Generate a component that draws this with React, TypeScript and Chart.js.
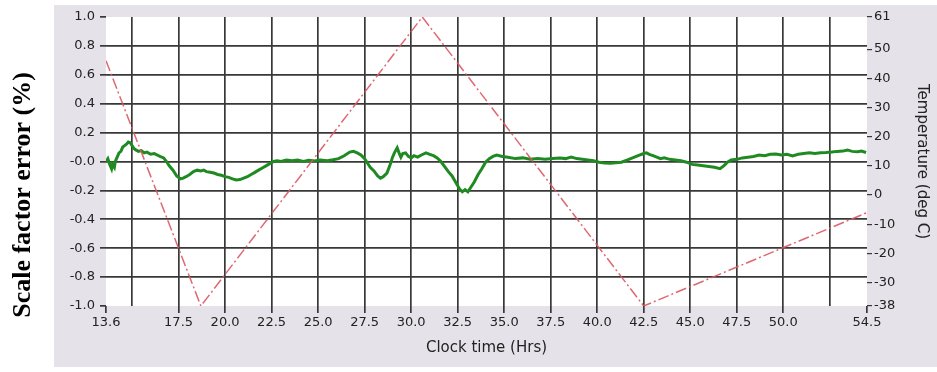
import React, { useEffect, useRef } from "react";
import { Chart, registerables } from "chart.js";

Chart.register(...registerables);

// Scale factor error trace (green)
const timeHrs = [
  13.6, 13.7, 13.8, 13.9, 13.95, 14.05, 14.1, 14.2, 14.3, 14.4, 14.5, 14.6, 14.7, 14.8, 14.9,
  15.0, 15.1, 15.2, 15.35, 15.5, 15.65, 15.8, 16.0, 16.2, 16.35, 16.5, 16.7, 16.85, 17.0, 17.2,
  17.4, 17.6, 17.75, 17.9, 18.1, 18.3, 18.5, 18.7, 18.85, 19.0, 19.2, 19.4, 19.6, 19.8, 20.0,
  20.2, 20.4, 20.6, 20.8, 21.0, 21.2, 21.4, 21.6, 21.8, 22.0, 22.2, 22.4, 22.6, 22.8, 23.0,
  23.3, 23.6, 23.9, 24.2, 24.5, 24.8, 25.1, 25.5, 25.8, 26.1, 26.4, 26.7, 26.9, 27.1, 27.3,
  27.5, 27.65, 27.8, 28.0, 28.2, 28.35, 28.5, 28.7, 28.85, 29.0, 29.1, 29.25, 29.35, 29.45, 29.55,
  29.7, 29.85, 30.0, 30.15, 30.35, 30.55, 30.8, 31.0, 31.2, 31.4, 31.6, 31.8, 32.0, 32.2, 32.4,
  32.6, 32.75, 32.9, 33.05, 33.2, 33.4, 33.6, 33.8, 34.0, 34.2, 34.4, 34.6, 34.9, 35.2, 35.6,
  36.0, 36.4, 36.8, 37.2, 37.6, 38.0, 38.3, 38.6, 38.9, 39.2, 39.5, 39.8, 40.1, 40.4, 40.7,
  41.0, 41.3, 41.6, 41.9, 42.2, 42.5, 42.65, 42.8, 43.0, 43.2, 43.4, 43.6, 43.9, 44.2, 44.5,
  44.8, 45.1, 45.4, 45.7, 46.0, 46.3, 46.6, 46.8, 47.0, 47.2, 47.5, 47.8, 48.1, 48.4, 48.7,
  49.0, 49.3, 49.6, 49.9, 50.2, 50.5, 50.8, 51.1, 51.4, 51.7, 52.0, 52.3, 52.6, 52.9, 53.2,
  53.45, 53.7, 54.0, 54.2, 54.45,
];
const scaleError = [
  0.0, 0.02, -0.02, -0.05, -0.02, -0.04, 0.0, 0.03, 0.06, 0.07, 0.1, 0.11, 0.12, 0.135, 0.13,
  0.11, 0.09, 0.08, 0.07, 0.075, 0.06, 0.065, 0.05, 0.055, 0.045, 0.035, 0.025, 0.0, -0.03, -0.06,
  -0.1, -0.12, -0.115, -0.105, -0.09, -0.07, -0.06, -0.065, -0.06, -0.07, -0.075, -0.08, -0.09, -0.095, -0.105,
  -0.11, -0.12, -0.128, -0.125, -0.115, -0.105, -0.09, -0.075, -0.06, -0.045, -0.03, -0.015, 0.0, 0.005, 0.0,
  0.01, 0.005, 0.01, 0.0, 0.008, 0.003, 0.01, 0.005, 0.012, 0.02, 0.04, 0.065, 0.07, 0.06, 0.045,
  0.02, -0.01, -0.04, -0.065, -0.1, -0.115, -0.105, -0.08, -0.03, 0.03, 0.06, 0.095, 0.06, 0.03, 0.055,
  0.06, 0.035, 0.025, 0.04, 0.03, 0.045, 0.06, 0.05, 0.04, 0.025, 0.0, -0.035, -0.07, -0.1, -0.145,
  -0.19, -0.21, -0.195, -0.21, -0.18, -0.14, -0.09, -0.05, -0.005, 0.02, 0.035, 0.045, 0.035, 0.03, 0.02,
  0.025, 0.015, 0.02, 0.015, 0.02, 0.025, 0.02, 0.03, 0.02, 0.015, 0.01, 0.005, -0.005, -0.01, -0.012,
  -0.008, -0.005, 0.01, 0.025, 0.04, 0.055, 0.06, 0.05, 0.04, 0.03, 0.02, 0.025, 0.015, 0.01, 0.005,
  -0.005, -0.02, -0.025, -0.03, -0.035, -0.04, -0.05, -0.03, -0.005, 0.01, 0.015, 0.025, 0.03, 0.035, 0.045,
  0.04, 0.05, 0.052, 0.045, 0.05, 0.038, 0.05, 0.055, 0.06, 0.055, 0.06, 0.062, 0.065, 0.07, 0.072,
  0.08, 0.07, 0.068, 0.072, 0.062,
];

// Temperature profile (red dash-dot)
const tempTime = [13.6, 18.7, 30.6, 42.5, 54.5];
const tempDegC = [46, -38, 61, -38, -6];

// Axis ticks
const xTickValues = [13.6, 15, 17.5, 20, 22.5, 25, 27.5, 30, 32.5, 35, 37.5, 40, 42.5, 45, 47.5, 50, 52.5, 54.5];
const xTickLabels = ["13.6", "", "17.5", "20.0", "22.5", "25.0", "27.5", "30.0", "32.5", "35.0", "37.5", "40.0", "42.5", "45.0", "47.5", "50.0", "", "54.5"];
const leftTickValues = [-1, -0.8, -0.6, -0.4, -0.2, 0, 0.2, 0.4, 0.6, 0.8, 1];
const leftTickLabels = ["-1.0", "-0.8", "-0.6", "-0.4", "-0.2", "-0.0", "0.2", "0.4", "0.6", "0.8", "1.0"];
const rightTickValues = [-38, -30, -20, -10, 0, 10, 20, 30, 40, 50, 61];
const rightTickLabels = ["-38", "-30", "-20", "-10", "0", "10", "20", "30", "40", "50", "61"];

const TICK_FONT = { family: "'DejaVu Sans', sans-serif", size: 13 };
const GRID = "#383838";
const CLEAR = "rgba(0,0,0,0)";

const backgroundPlugin = {
  id: "panelBackground",
  beforeDraw(chart: any) {
    const { ctx, chartArea, width, height } = chart;
    ctx.save();
    ctx.fillStyle = "#ffffff";
    ctx.fillRect(0, 0, width, height);
    ctx.fillStyle = "#e5e3e9";
    ctx.fillRect(54, 5, width - 54, 362);
    ctx.fillStyle = "#ffffff";
    ctx.fillRect(chartArea.left, chartArea.top, chartArea.right - chartArea.left, chartArea.bottom - chartArea.top);
    ctx.restore();
  },
  afterDraw(chart: any) {
    const { ctx } = chart;
    ctx.save();
    ctx.translate(23, 195);
    ctx.rotate(-Math.PI / 2);
    ctx.fillStyle = "#000000";
    ctx.font = "bold 26px 'Liberation Serif', 'Times New Roman', serif";
    ctx.textAlign = "center";
    ctx.textBaseline = "middle";
    ctx.fillText("Scale factor error (%)", 0, 0);
    ctx.restore();
  },
};

export default function App() {
  const canvasRef = useRef<HTMLCanvasElement | null>(null);

  useEffect(() => {
    const canvas = canvasRef.current;
    if (!canvas) return;
    const errorPoints = timeHrs.map((t, i) => ({ x: t, y: scaleError[i] }));
    const tempPoints = tempTime.map((t, i) => ({ x: t, y: tempDegC[i] }));

    const chart = new Chart(canvas, {
      type: "line",
      data: {
        datasets: [
          {
            label: "Temperature (deg C)",
            data: tempPoints,
            yAxisID: "y2",
            borderColor: "rgba(218,88,98,0.9)",
            borderWidth: 1.5,
            borderDash: [11, 3, 2, 3],
            pointRadius: 0,
            tension: 0,
          },
          {
            label: "Scale factor error (%)",
            data: errorPoints,
            yAxisID: "y",
            borderColor: "#1f8a22",
            borderWidth: 3,
            pointRadius: 0,
            tension: 0,
          },
        ],
      },
      options: {
        responsive: false,
        animation: false,
        events: [],
        layout: { padding: { top: 17, left: 0, right: 0, bottom: 0 } },
        plugins: { legend: { display: false }, tooltip: { enabled: false } },
        scales: {
          x: {
            type: "linear",
            position: "bottom",
            min: 13.6,
            max: 54.5,
            afterBuildTicks: (scale: any) => {
              scale.ticks = xTickValues.map((v) => ({ value: v }));
            },
            afterFit: (scale: any) => {
              scale.height = 66;
            },
            border: { display: false },
            grid: {
              color: (c: any) => (c.index === 0 || c.index === xTickValues.length - 1 ? CLEAR : GRID),
              tickColor: (c: any) => (xTickLabels[c.index] ? GRID : CLEAR),
              lineWidth: 1.7,
              tickLength: 7,
            },
            ticks: {
              autoSkip: false,
              maxRotation: 0,
              minRotation: 0,
              padding: 2,
              color: "#222222",
              font: TICK_FONT,
              callback: (_v: any, i: number) => xTickLabels[i],
            },
            title: {
              display: true,
              text: "Clock time (Hrs)",
              color: "#222222",
              font: { family: "'DejaVu Sans', sans-serif", size: 15 },
              padding: { top: 0, bottom: 15 },
            },
          },
          y: {
            type: "linear",
            position: "left",
            min: -1,
            max: 1,
            afterBuildTicks: (scale: any) => {
              scale.ticks = leftTickValues.map((v) => ({ value: v }));
            },
            afterFit: (scale: any) => {
              scale.width = 106;
            },
            border: { display: false },
            grid: {
              color: (c: any) => (c.index === 0 || c.index === leftTickValues.length - 1 ? CLEAR : GRID),
              tickColor: GRID,
              lineWidth: 1.7,
              tickLength: 6,
            },
            ticks: {
              padding: 5,
              color: "#222222",
              font: TICK_FONT,
              callback: (_v: any, i: number) => leftTickLabels[i],
            },
          },
          y2: {
            type: "linear",
            position: "right",
            min: -38,
            max: 61,
            afterBuildTicks: (scale: any) => {
              scale.ticks = rightTickValues.map((v) => ({ value: v }));
            },
            afterFit: (scale: any) => {
              scale.width = 70;
            },
            border: { display: false },
            grid: {
              drawOnChartArea: false,
              tickColor: GRID,
              lineWidth: 1.2,
              tickLength: 5,
            },
            ticks: {
              padding: 2,
              color: "#222222",
              font: TICK_FONT,
              callback: (_v: any, i: number) => rightTickLabels[i],
            },
            title: {
              display: true,
              text: "Temperature (deg C)",
              color: "#222222",
              font: { family: "'DejaVu Sans', sans-serif", size: 15 },
              padding: { top: 6, bottom: 0 },
            },
          },
        },
      },
      plugins: [backgroundPlugin],
    });

    return () => chart.destroy();
  }, []);

  return (
    <div style={{ position: "absolute", left: 0, top: 0, width: 937, height: 372 }}>
      <canvas ref={canvasRef} width={937} height={372} style={{ display: "block", width: 937, height: 372 }} />
    </div>
  );
}
